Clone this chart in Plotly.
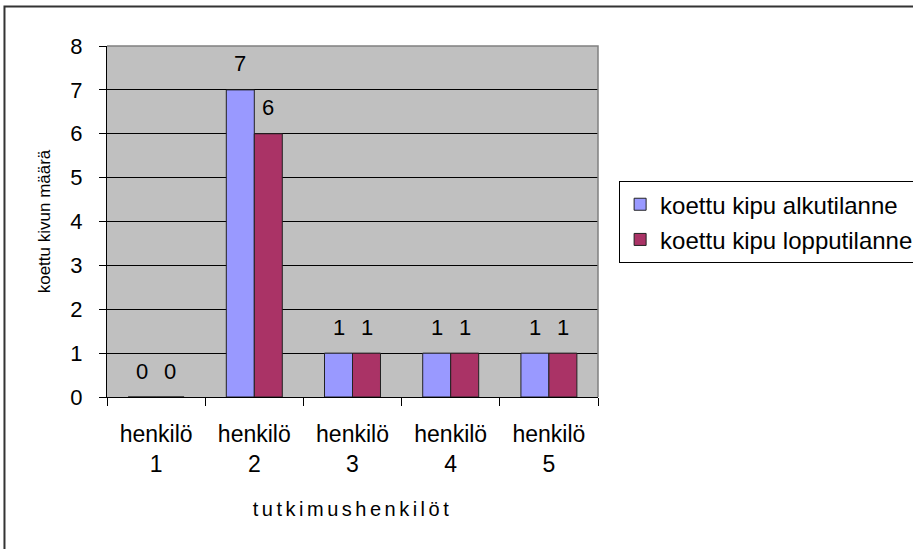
import plotly.graph_objects as go

categories = ["henkilö<br>1", "henkilö<br>2", "henkilö<br>3", "henkilö<br>4", "henkilö<br>5"]
alku = [0, 7, 1, 1, 1]
loppu = [0, 6, 1, 1, 1]
series_names = ["koettu kipu alkutilanne", "koettu kipu lopputilanne"]
y_ticks = [0, 1, 2, 3, 4, 5, 6, 7, 8]

FONT = "Liberation Sans, Arial, sans-serif"

fig = go.Figure()
series = [
    (series_names[0], alku, "#9999FF", "a", -14),
    (series_names[1], loppu, "#AA3366", "b", 14),
]
for name, vals, color, grp, shift in series:
    fig.add_trace(go.Bar(
        x=categories, y=vals, name=name, legendgroup=grp,
        marker=dict(color=color, line=dict(color="#222222", width=1)),
    ))
    # value labels above the bars
    for cat, v in zip(categories, vals):
        fig.add_annotation(x=cat, y=v, text=str(v), showarrow=False,
                           xshift=shift, yshift=26, yanchor="middle",
                           font=dict(size=22, color="black", family=FONT))

fig.update_layout(
    width=913, height=549, autosize=False,
    margin=dict(l=107, r=315, t=46, b=152, autoexpand=False),
    paper_bgcolor="white", plot_bgcolor="#C0C0C0",
    font=dict(family=FONT, color="black"),
    barmode="group", bargap=0.43, bargroupgap=0,
    legend=dict(
        x=1.043, y=0.615, xanchor="left", yanchor="top",
        bgcolor="white", bordercolor="black", borderwidth=1,
        font=dict(size=24, family=FONT), traceorder="grouped",
        tracegroupgap=1, itemwidth=30,
    ),
    showlegend=True,
)

fig.update_xaxes(
    type="category", tickson="boundaries", ticks="outside", ticklen=8,
    tickcolor="black", showline=True, linecolor="black", linewidth=1,
    tickfont=dict(size=23), showgrid=False, automargin=False,
    ticklabelstandoff=16,
    title=dict(text="<span style='letter-spacing:3.5px'>tutkimushenkilöt</span>",
               font=dict(size=20), standoff=26),
)
fig.update_yaxes(
    range=[0, 8], tickvals=y_ticks, ticks="outside", ticklen=7,
    tickcolor="black", showline=True, linecolor="black", linewidth=1,
    showgrid=True, gridcolor="black", gridwidth=1, zeroline=False,
    tickfont=dict(size=22), ticklabelstandoff=12, automargin=False,
    title=dict(text="koettu kivun määrä", font=dict(size=17), standoff=15),
)

# gray plot-area frame (top and right edges)
fig.add_shape(type="path", xref="paper", yref="paper",
              path="M 0,1 L 1,1 L 1,0", line=dict(color="#808080", width=1.5),
              layer="above")
# outer chart border
fig.add_shape(type="rect", xref="paper", yref="paper",
              x0=-0.2088, y0=-0.45, x1=1.8, y1=1.1125,
              line=dict(color="#333333", width=2), layer="above")

fig.write_html("out.html", config={"displayModeBar": False},
               post_script="document.body.style.margin='0';document.body.style.overflow='hidden';")
